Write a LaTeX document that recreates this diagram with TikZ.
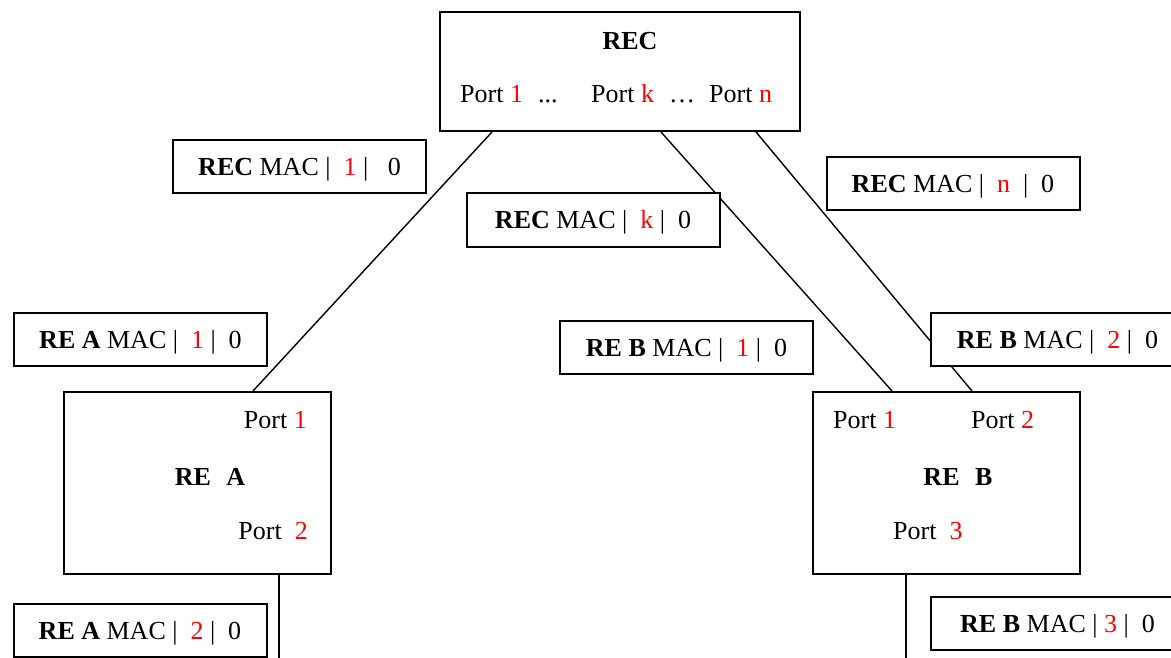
\documentclass[tikz,border=0pt]{standalone}
\usepackage{fontspec}
\setmainfont{Liberation Serif}
\usepackage{tikz}
\usetikzlibrary{calc, positioning}
\newcommand{\pn}[1]{\textcolor{red}{#1}}

\begin{document}
\begin{tikzpicture}[x=1pt, y=-1pt, font=\fontsize{26}{30}\selectfont]
      % Styles
      \tikzset{unit/.style={draw, line width=2pt, fill=white, inner sep=0pt}}
      \tikzset{macbox/.style={draw, line width=2pt, fill=white, minimum width=253pt, minimum height=53pt, inner sep=0pt, text height=22pt, text depth=4pt}}
      \tikzset{link/.style={line width=1.4pt}}
      \tikzset{lbl/.style={inner sep=0pt, text height=22pt, text depth=4pt}}

      \useasboundingbox (0,0) rectangle (1171,658);

      % --- Main units ---
      \node[unit, minimum width=360pt, minimum height=119pt] (rec) at (620,71.5) {};
      \node[lbl, font=\fontsize{26}{30}\selectfont\bfseries] (rec-name) at (630,41) {REC};
      \node[lbl, anchor=west] (rec-p1) at (460,94) {Port \pn{1}};
      \node[lbl, anchor=west] (rec-d1) at (538,94) {...};
      \node[lbl, anchor=west] (rec-pk) at (591,94) {Port \pn{k}};
      \node[lbl, anchor=west] (rec-d2) at (669,94) {…};
      \node[lbl, anchor=west] (rec-pn) at (709,94) {Port \pn{n}};

      \node[unit, minimum width=267pt, minimum height=182pt] (rea) at (197.5,483) {};
      \node[lbl, anchor=east] (rea-p1) at (307,419) {Port \pn{1}};
      \node[lbl, font=\fontsize{26}{30}\selectfont\bfseries] (rea-name) at (210,476) {RE\hspace{0.6em}A};
      \node[lbl, anchor=east] (rea-p2) at (308,530) {Port\hspace{0.5em}\pn{2}};

      \node[unit, minimum width=267pt, minimum height=182pt] (reb) at (946.5,483) {};
      \node[lbl, anchor=west] (reb-p1) at (833,419) {Port \pn{1}};
      \node[lbl, anchor=west] (reb-p2) at (971,419) {Port \pn{2}};
      \node[lbl, font=\fontsize{26}{30}\selectfont\bfseries] (reb-name) at (958,476) {RE\hspace{0.6em}B};
      \node[lbl, anchor=west] (reb-p3) at (893,530) {Port\hspace{0.5em}\pn{3}};

      % --- Links ---
      \coordinate (rec-o1) at ($(rec.south west)+(53,0)$);
      \coordinate (rec-ok) at ($(rec.south west)+(222,0)$);
      \coordinate (rec-on) at ($(rec.south west)+(317,0)$);
      \coordinate (rea-i1) at ($(rea.north west)+(190,0)$);
      \coordinate (reb-i1) at ($(reb.north west)+(80,0)$);
      \coordinate (reb-i2) at ($(reb.north west)+(160,0)$);
      \coordinate (rea-o2) at ($(rea.south west)+(216,0)$);
      \coordinate (reb-o3) at ($(reb.south west)+(94,0)$);
      \coordinate (rea-end) at ($(rea-o2)+(0,90)$);
      \coordinate (reb-end) at ($(reb-o3)+(0,90)$);

      \draw[link] (rec-o1) -- (rea-i1);
      \draw[link] (rec-ok) -- (reb-i1);
      \draw[link] (rec-on) -- (reb-i2);
      \draw[link] (rea-o2) -- (rea-end);
      \draw[link] (reb-o3) -- (reb-end);

      % --- MAC tables ---
      \node[macbox] (mac-rec1) at (299.5,166.5) {\textbf{REC} MAC |\ \ \pn{1} |\ \ \ 0};
      \node[macbox] (mac-reck) at (593,220) {\textbf{REC} MAC |\ \ \pn{k} |\ \ 0};
      \node[macbox] (mac-recn) at (953,184) {\textbf{REC} MAC |\ \ \pn{n}\ \ |\ \ 0};
      \node[macbox] (mac-rea1) at (140.5,339) {\textbf{RE A} MAC |\ \ \pn{1} |\ \ 0};
      \node[macbox] (mac-reb1) at (686.5,347) {\textbf{RE B} MAC |\ \ \pn{1} |\ \ 0};
      \node[macbox] (mac-reb2) at (1057.5,339.5) {\textbf{RE B} MAC |\ \ \pn{2} |\ \ 0};
      \node[macbox] (mac-rea2) at (140,630) {\textbf{RE A} MAC |\ \ \pn{2} |\ \ 0};
      \node[macbox] (mac-reb3) at (1057.5,623) {\textbf{RE B} MAC | \pn{3} |\ \ 0};
\end{tikzpicture}
\end{document}
